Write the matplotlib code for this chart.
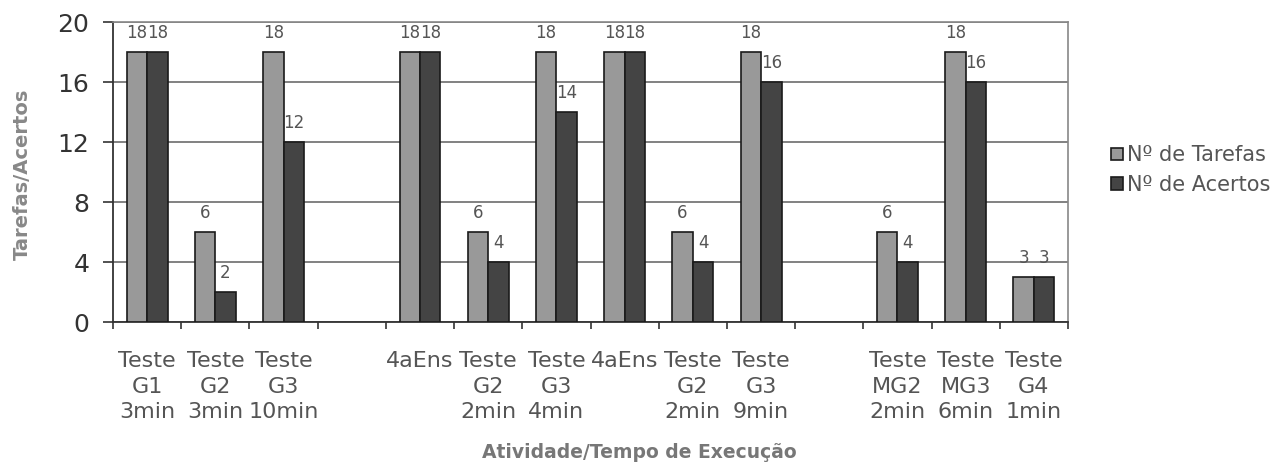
"""Tarefas e acertos por atividade, com tempo de execução."""

import numpy as np
import matplotlib.pyplot as plt

plt.rcParams['font.family'] = ['DejaVu Sans']

categories = ["Teste\nG1\n3min", "Teste\nG2\n3min", "Teste\nG3\n10min", "",
              "4aEns", "Teste\nG2\n2min", "Teste\nG3\n4min", "4aEns",
              "Teste\nG2\n2min", "Teste\nG3\n9min", "",
              "Teste\nMG2\n2min", "Teste\nMG3\n6min", "Teste\nG4\n1min"]
tarefas = [18, 6, 18, None, 18, 6, 18, 18, 6, 18, None, 6, 18, 3]
acertos = [18, 2, 12, None, 18, 4, 14, 18, 4, 16, None, 4, 16, 3]
series_names = ["Nº de Tarefas", "Nº de Acertos"]
yticks = [0, 4, 8, 12, 16, 20]

c_light = "#999999"
c_dark = "#444444"
txt = "#555555"

fig = plt.figure(figsize=(12.72, 4.66), dpi=100)
ax = fig.add_axes([113 / 1272, 1 - 322 / 466, (1068 - 113) / 1272, 300 / 466])

x = np.arange(len(categories))
w = 0.3
handles = []
for vals, off, col, name in [(tarefas, -w / 2, c_light, series_names[0]),
                             (acertos, w / 2, c_dark, series_names[1])]:
    idx = [i for i, v in enumerate(vals) if v is not None]
    hv = [vals[i] for i in idx]
    bars = ax.bar(x[idx] + off, hv, width=w, color=col, edgecolor="#1a1a1a",
                  linewidth=1.2, zorder=3, label=name)
    handles.append(bars)
    for xi, v in zip(x[idx] + off, hv):
        ax.annotate(str(v), (xi, v), xytext=(0, 14), textcoords="offset points",
                    ha="center", va="center", fontsize=12, color=txt)

ax.set_xlim(-0.5, len(categories) - 0.5)
ax.set_ylim(0, 20)
ax.set_yticks(yticks)
ax.tick_params(axis="y", labelsize=18, colors="#333333", length=7, width=1.2,
               direction="out", pad=10)
ax.yaxis.grid(True, color="#777777", linewidth=1.3, zorder=0)

ax.set_xticks(x)
ax.set_xticklabels(categories, fontsize=16, color=txt, linespacing=1.35)
ax.set_xticks(np.arange(-0.5, len(categories)), minor=True)
ax.tick_params(axis="x", which="major", length=0, pad=21)
ax.tick_params(axis="x", which="minor", length=5, width=1.2, color="#333333",
               direction="out")

for s in ["left", "bottom"]:
    ax.spines[s].set_color("#333333")
    ax.spines[s].set_linewidth(1.3)
for s in ["top", "right"]:
    ax.spines[s].set_color("#888888")
    ax.spines[s].set_linewidth(1.2)

fig.text(639 / 1272, 1 - 452 / 466, "Atividade/Tempo de Execução", ha="center",
         va="center", fontsize=13.5, fontweight="bold", color="#777777")
fig.text(22 / 1272, 1 - 174 / 466, "Tarefas/Acertos", ha="center", va="center",
         rotation=90, fontsize=14, fontweight="bold", color="#888888")

fig.legend(handles=handles, labels=series_names, loc="center left",
           bbox_to_anchor=(1103 / 1272, 1 - 170 / 466), frameon=False,
           fontsize=15, labelcolor=txt, handlelength=0.55, handleheight=0.55,
           handletextpad=0.2, labelspacing=0.45, borderaxespad=0)

fig.savefig("out.png", dpi=100)
